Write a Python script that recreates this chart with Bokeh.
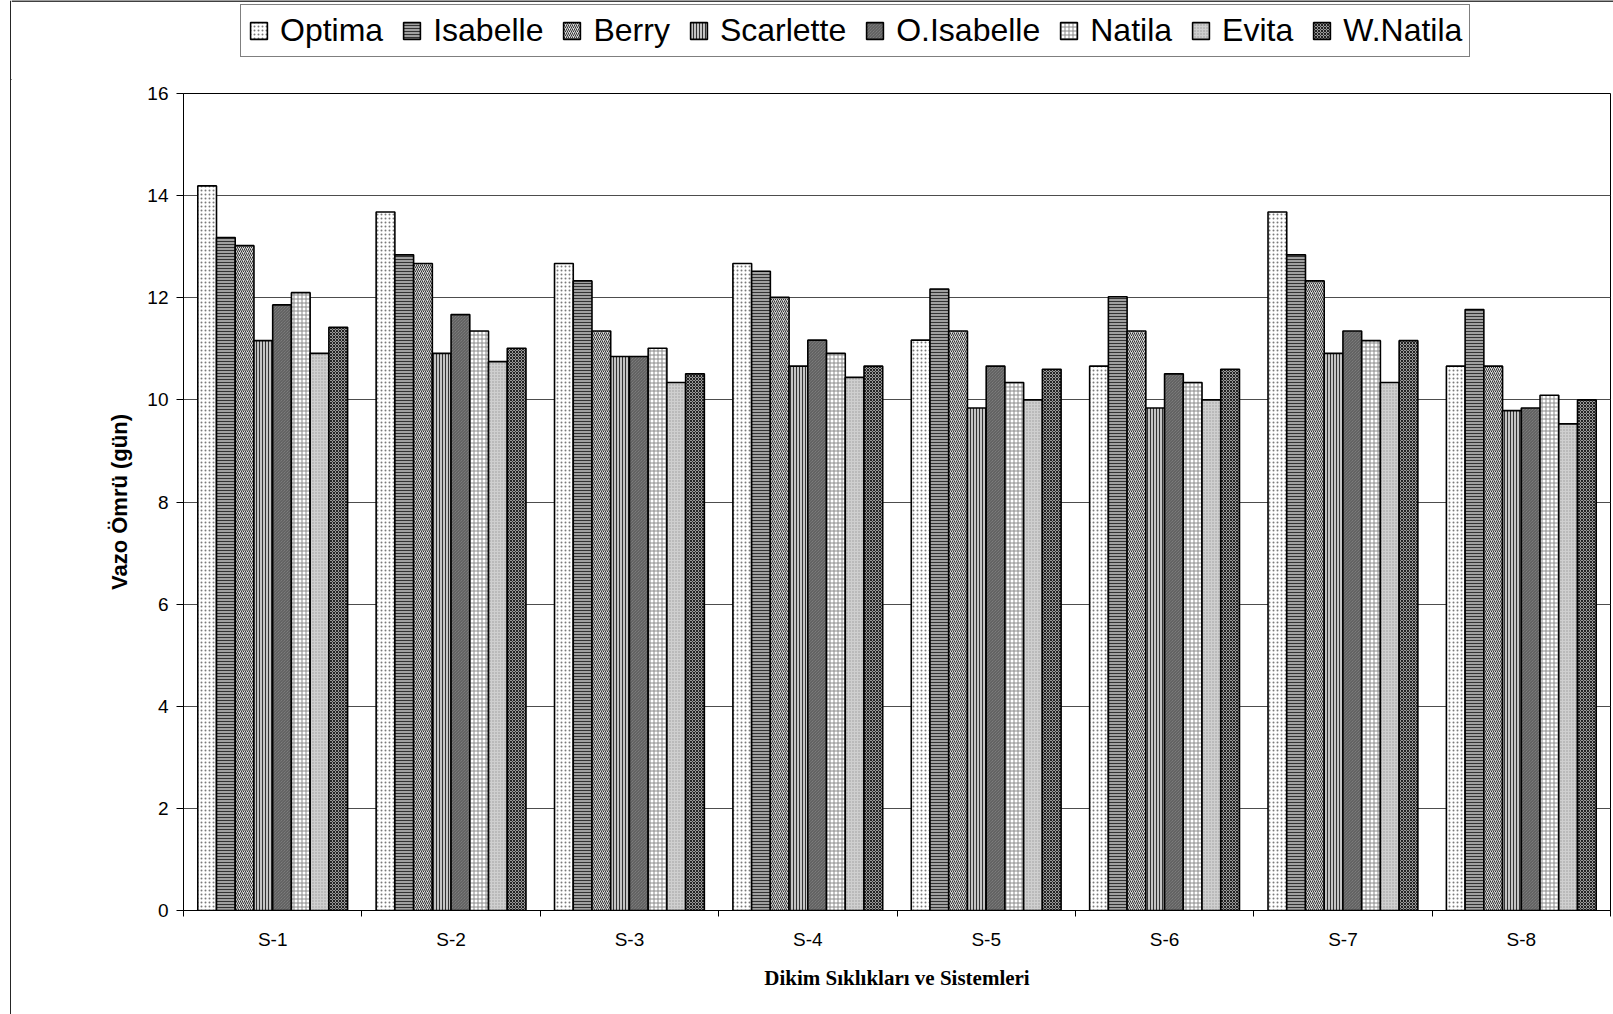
from bokeh.plotting import figure
from bokeh.layouts import row, column
from bokeh.models import (ColumnDataSource, Range1d, FixedTicker, Legend, LegendItem, Span)
from bokeh.transform import dodge
from bokeh.embed import file_html
from bokeh.resources import INLINE

# ---- data ----
categories = ["S-1", "S-2", "S-3", "S-4", "S-5", "S-6", "S-7", "S-8"]
series_names = ["Optima", "Isabelle", "Berry", "Scarlette", "O.Isabelle", "Natila", "Evita", "W.Natila"]

optima     = [14.19, 13.68, 12.67, 12.67, 11.17, 10.66, 13.68, 10.66]
isabelle   = [13.18, 12.84, 12.33, 12.52, 12.17, 12.02, 12.84, 11.77]
berry      = [13.02, 12.67, 11.35, 12.01, 11.35, 11.35, 12.33, 10.66]
scarlette  = [11.16, 10.91, 10.85, 10.66, 9.84, 9.84, 10.91, 9.79]
o_isabelle = [11.86, 11.67, 10.85, 11.17, 10.66, 10.51, 11.35, 9.84]
natila     = [12.10, 11.35, 11.01, 10.91, 10.34, 10.34, 11.16, 10.09]
evita      = [10.91, 10.75, 10.34, 10.44, 10.00, 10.00, 10.34, 9.53]
w_natila   = [11.42, 11.01, 10.51, 10.66, 10.60, 10.60, 11.16, 10.00]

y_ticks = [0, 2, 4, 6, 8, 10, 12, 14, 16]

series_values = [optima, isabelle, berry, scarlette, o_isabelle, natila, evita, w_natila]

positions = [i + 1 for i in range(len(categories))]
data = {"x": positions}
for name, vals in zip(series_names, series_values):
    data[name] = vals
src = ColumnDataSource(data)

FONT = "Liberation Sans"
W, H = 1613, 1014
STRIP = 11
TOP_H = 80

styles = [
    dict(fill_color="white", hatch_pattern="dot", hatch_color="#7a7a7a", hatch_scale=4, hatch_weight=1),
    dict(fill_color="#a0a0a0", hatch_pattern="horizontal_line", hatch_color="#333333", hatch_scale=3, hatch_weight=1),
    dict(fill_color="#d8d8d8", hatch_pattern="right_diagonal_line", hatch_color="#333333", hatch_scale=4, hatch_weight=1),
    dict(fill_color="#c4c4c4", hatch_pattern="vertical_line", hatch_color="#333333", hatch_scale=3, hatch_weight=1),
    dict(fill_color="#8a8a8a", hatch_pattern="left_diagonal_line", hatch_color="#555555", hatch_scale=3, hatch_weight=1),
    dict(fill_color="white", hatch_pattern="cross", hatch_color="#8a8a8a", hatch_scale=4, hatch_weight=1),
    dict(fill_color="#cfcfcf", hatch_pattern="dot", hatch_color="#9a9a9a", hatch_scale=3, hatch_weight=1),
    dict(fill_color="#9a9a9a", hatch_pattern="diagonal_cross", hatch_color="#222222", hatch_scale=3, hatch_weight=1),
]

# ---- left strip carrying the outer frame's left edge ----
strip = figure(width=STRIP, height=H, x_range=Range1d(0, STRIP), y_range=Range1d(0, H),
               output_backend="svg", toolbar_location=None,
               x_axis_location=None, y_axis_location=None,
               min_border_left=0, min_border_right=0, min_border_top=0, min_border_bottom=0)
strip.outline_line_color = None
strip.grid.visible = False
strip.add_layout(Span(location=STRIP - 0.6, dimension="height", line_color="black", line_width=1.5))

# ---- top band carrying the legend and the outer frame's top edge ----
top = figure(width=W - STRIP, height=TOP_H, x_range=Range1d(0, W - STRIP), y_range=Range1d(0, TOP_H),
             output_backend="svg", toolbar_location=None,
             x_axis_location=None, y_axis_location=None,
             min_border_left=0, min_border_right=0, min_border_top=0, min_border_bottom=0)
top.frame_align = False
top.outline_line_color = None
top.grid.visible = False
top.add_layout(Span(location=TOP_H - 0.6, dimension="width", line_color="black", line_width=1.5))

items = []
for k, name in enumerate(series_names):
    # legend-only renderer: one zero-height bar kept outside the visible band
    r = top.vbar(x=[-500], top=[0], width=1, line_color="black", line_width=1.6, **styles[k])
    items.append(LegendItem(label=name, renderers=[r]))

legend = Legend(items=items, orientation="horizontal", location=(240 - STRIP, TOP_H - 57),
                label_text_font=FONT, label_text_font_size="32px", label_text_color="black",
                glyph_width=21, glyph_height=21, label_standoff=11, spacing=18, padding=7,
                border_line_color="black", border_line_width=1, margin=0,
                background_fill_color="white", background_fill_alpha=1)
top.add_layout(legend)

# ---- main chart ----
p = figure(width=W - STRIP, height=H - TOP_H,
           x_range=Range1d(0.5, len(categories) + 0.5), y_range=Range1d(0, 16),
           output_backend="svg", toolbar_location=None,
           min_border_left=183 - STRIP, min_border_right=3, min_border_top=93 - TOP_H,
           min_border_bottom=104)
p.background_fill_color = "white"
p.border_fill_color = "white"
p.outline_line_color = "black"
p.outline_line_width = 1

n = len(series_names)
bw = 0.105
for k, name in enumerate(series_names):
    off = (k - (n - 1) / 2) * bw
    p.vbar(x=dodge("x", off, range=p.x_range), top=name, width=bw, bottom=0,
           source=src, line_color="black", line_width=1.6, **styles[k])

p.xaxis.ticker = FixedTicker(ticks=positions,
                             minor_ticks=[x - 0.5 for x in positions] + [positions[-1] + 0.5])
p.xaxis.major_label_overrides = {pos: cat for pos, cat in zip(positions, categories)}
p.xaxis.major_tick_line_color = None
p.xaxis.minor_tick_in = 0
p.xaxis.minor_tick_out = 6
p.xaxis.minor_tick_line_color = "black"
p.xaxis.axis_line_color = "black"
p.xaxis.major_label_text_font = FONT
p.xaxis.major_label_text_font_size = "19px"
p.xaxis.major_label_text_color = "black"
p.xaxis.major_label_standoff = 12
p.xaxis.axis_label = "Dikim Sıklıkları ve Sistemleri"
p.xaxis.axis_label_text_font = "Liberation Serif"
p.xaxis.axis_label_text_font_style = "bold"
p.xaxis.axis_label_text_font_size = "21px"
p.xaxis.axis_label_text_color = "black"
p.xaxis.axis_label_standoff = 13

p.yaxis.ticker = FixedTicker(ticks=y_ticks)
p.yaxis.major_tick_in = 0
p.yaxis.major_tick_out = 7
p.yaxis.minor_tick_line_color = None
p.yaxis.axis_line_color = "black"
p.yaxis.major_tick_line_color = "black"
p.yaxis.major_label_text_font = FONT
p.yaxis.major_label_text_font_size = "19px"
p.yaxis.major_label_text_color = "black"
p.yaxis.major_label_standoff = 8
p.yaxis.axis_label = "Vazo Ömrü (gün)"
p.yaxis.axis_label_text_font = FONT
p.yaxis.axis_label_text_font_style = "bold"
p.yaxis.axis_label_text_font_size = "22px"
p.yaxis.axis_label_text_color = "black"
p.yaxis.axis_label_standoff = 12

p.xgrid.visible = False
p.ygrid.grid_line_color = "#4d4d4d"
p.ygrid.grid_line_width = 1

layout = row(strip, column(top, p, spacing=0), spacing=0)

open("out.html", "w").write(file_html(layout, INLINE))
